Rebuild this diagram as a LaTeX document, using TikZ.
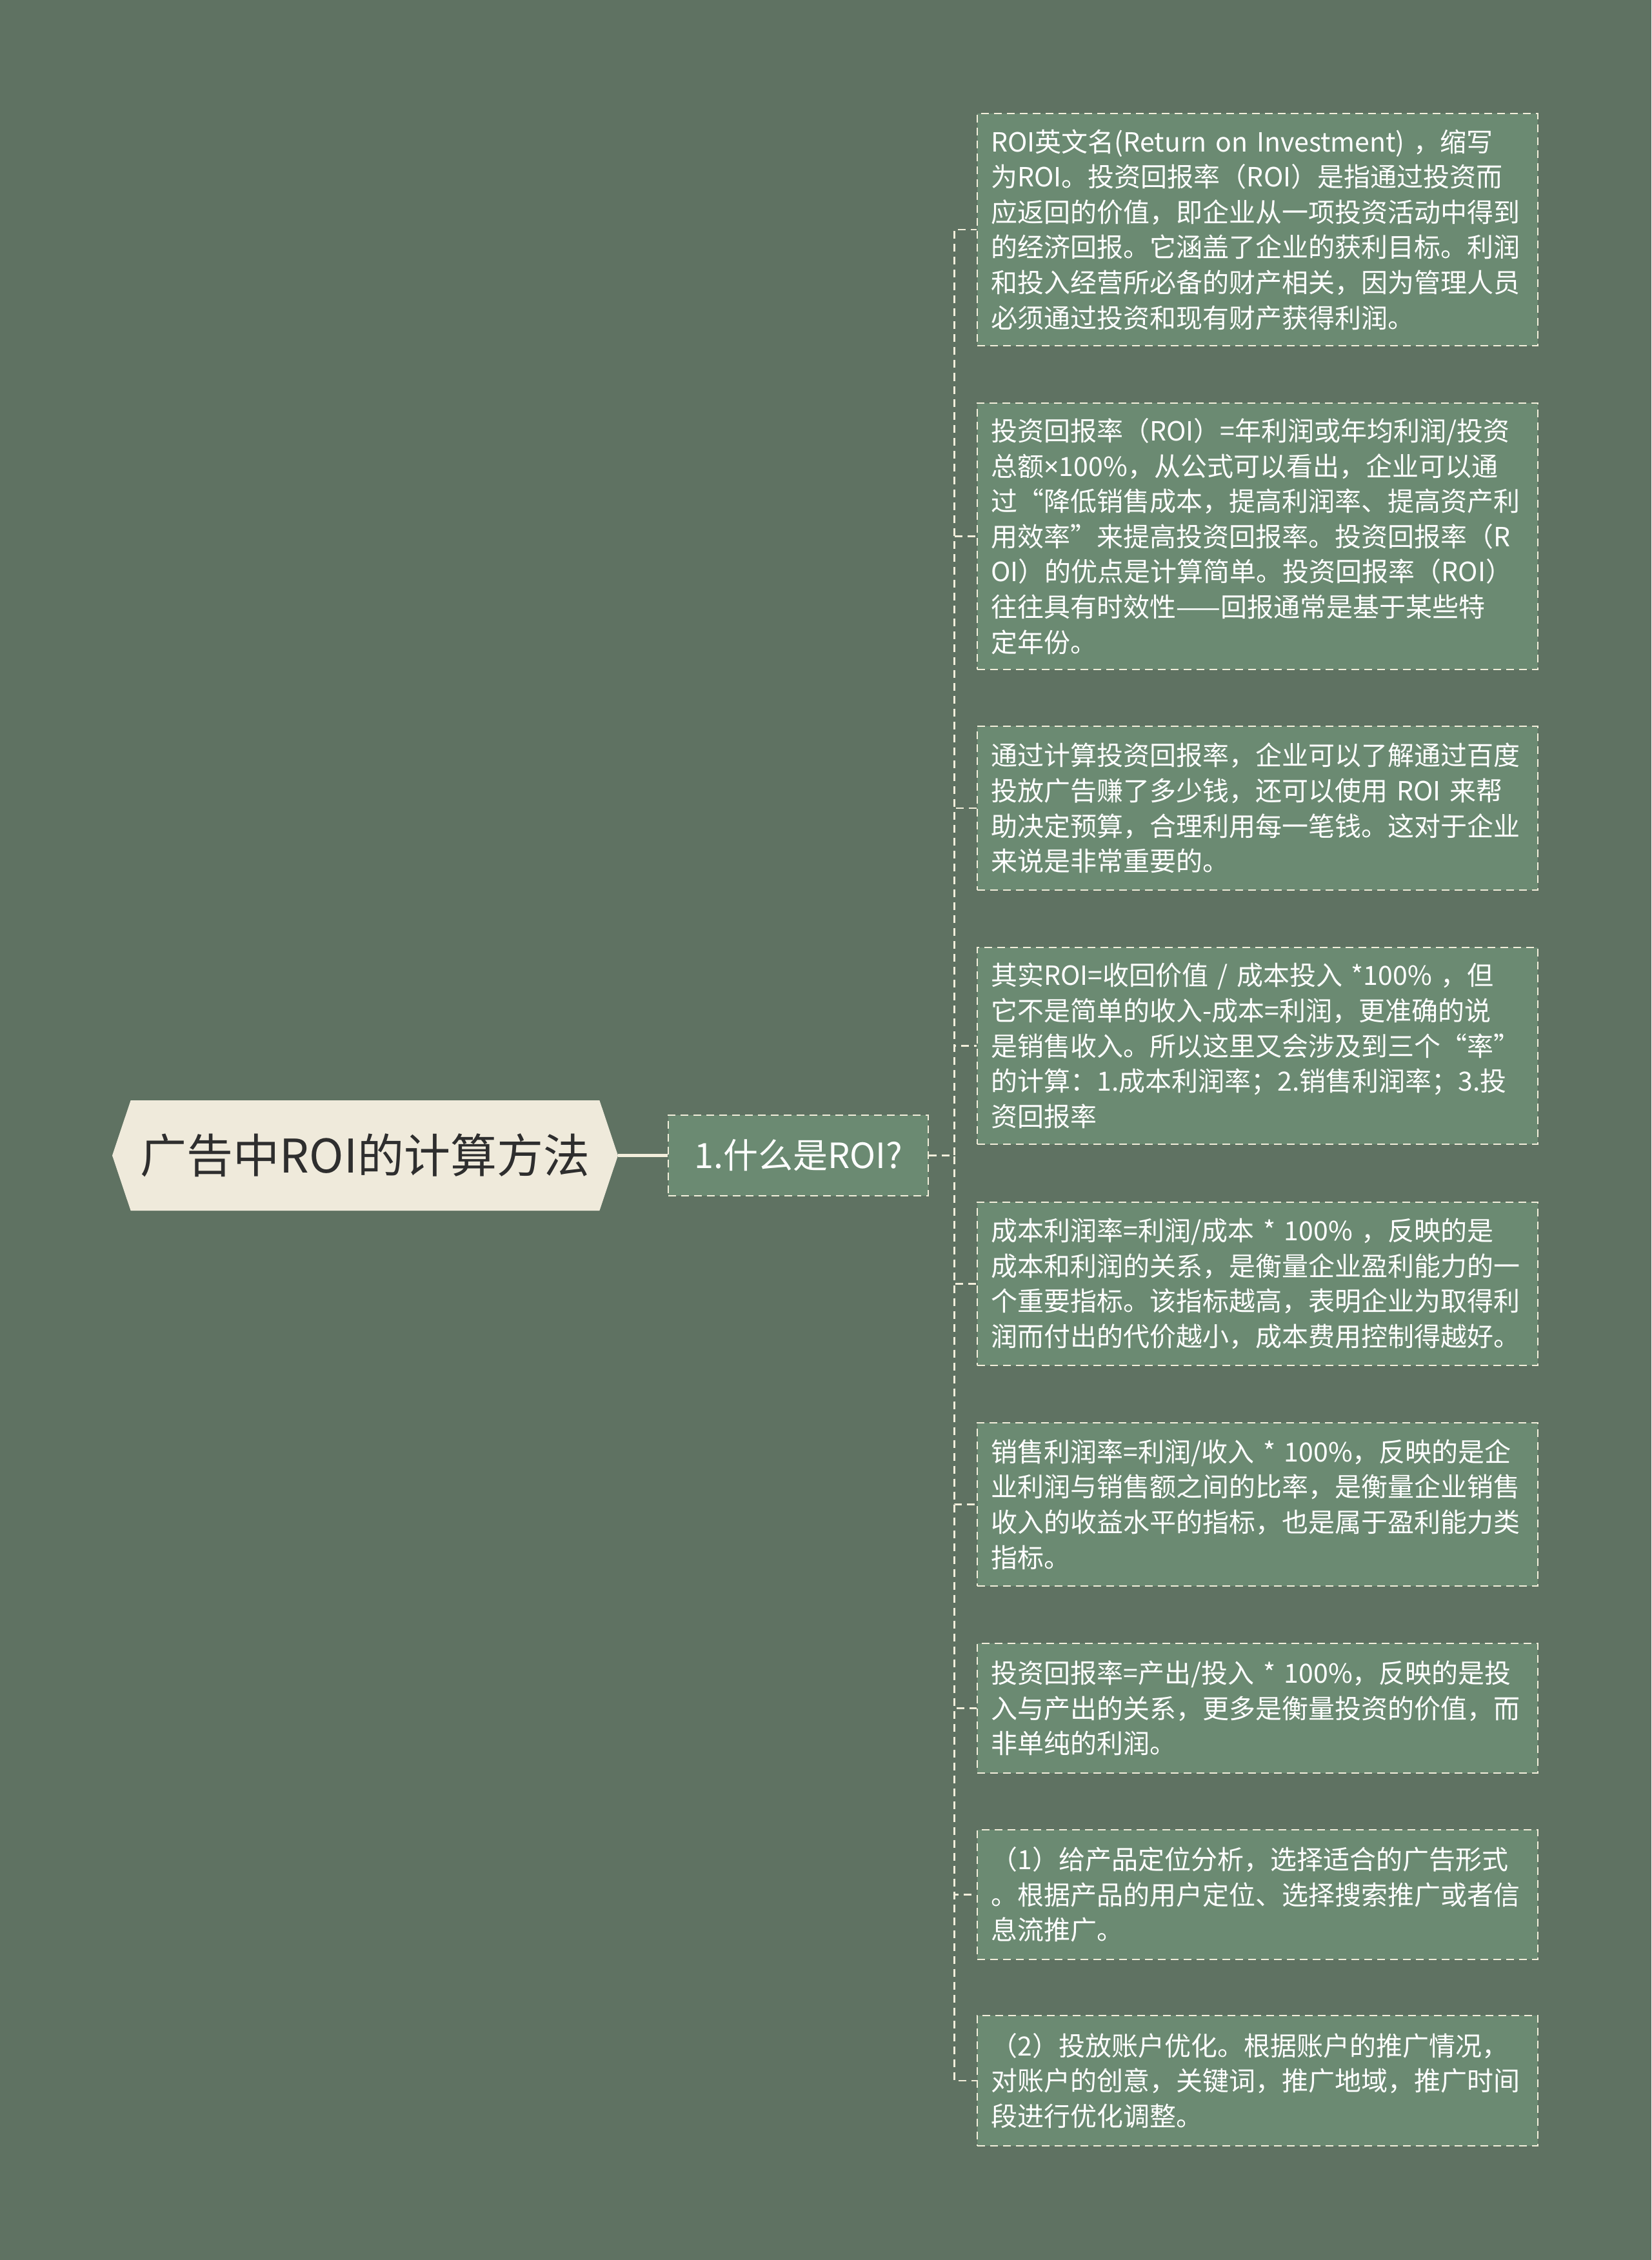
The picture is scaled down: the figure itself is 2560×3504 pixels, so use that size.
\documentclass[tikz,border=0pt]{standalone}
\usepackage{fontspec}
\newfontfamily\cjk{Noto Sans CJK SC}
\newfontfamily\latinf{Noto Sans}
\usetikzlibrary{shapes.symbols}

\definecolor{bgcol}{HTML}{5F7262}
\definecolor{leafcol}{HTML}{6B8A72}
\definecolor{linecol}{HTML}{F2EEDB}
\definecolor{rootcol}{HTML}{EFEADB}
\definecolor{titlecol}{HTML}{2E2E2E}

\tikzset{
  leaf/.style={draw=linecol, line width=1.3pt, dash pattern=on 6pt off 4pt,
    fill=leafcol, text=white, font=\cjk\fontsize{20.5pt}{27.3pt}\selectfont,
    align=left, text width=413pt, inner xsep=10.75pt},
  branch/.style={draw=linecol, line width=1.3pt, dash pattern=on 6pt off 4pt},
}

\begin{document}
\begin{tikzpicture}[x=0.5pt,y=-0.5pt]
    % background
    \fill[bgcol] (0,0) rectangle (2560,3504);
    \useasboundingbox (0,0) rectangle (2560,3504);

    % nodes
    \node (root) at (566,1791.5) [shape=signal, signal to=west and east, signal pointer angle=143, fill=rootcol, text=titlecol, minimum width=392pt, minimum height=85.5pt, inner sep=0pt, font=\cjk\fontsize{36pt}{40pt}\selectfont] {广告中ROI的计算方法};
    \node (whatis) at (1237.5,1791.5) [branch, fill=leafcol, text=white, minimum width=201.5pt, minimum height=62.5pt, font=\cjk\fontsize{27pt}{30pt}\selectfont] {1.什么是ROI?};

    \node (n1) at (1949.5,356) [leaf, minimum height=180pt] {ROI英文名(Return~on~Investment)~，缩写\\
      为ROI。投资回报率（ROI）是指通过投资而\\
      应返回的价值，即企业从一项投资活动中得到\\
      的经济回报。它涵盖了企业的获利目标。利润\\
      和投入经营所必备的财产相关，因为管理人员\\
      必须通过投资和现有财产获得利润。};
    \node (n2) at (1949.5,831.5) [leaf, minimum height=206.5pt] {投资回报率（ROI）=年利润或年均利润/投资\\
      总额{\latinf ×}100\%，从公式可以看出，企业可以通\\
      过“降低销售成本，提高利润率、提高资产利\\
      用效率”来提高投资回报率。投资回报率（R\\
      OI）的优点是计算简单。投资回报率（ROI）\\
      往往具有时效性——回报通常是基于某些特\\
      定年份。};
    \node (n3) at (1949.5,1253) [leaf, minimum height=127pt] {通过计算投资回报率，企业可以了解通过百度\\
      投放广告赚了多少钱，还可以使用~ROI~来帮\\
      助决定预算，合理利用每一笔钱。这对于企业\\
      来说是非常重要的。};
    \node (n4) at (1949.5,1621.5) [leaf, minimum height=152.5pt] {其实ROI=收回价值~/~成本投入~*100\%~，但\\
      它不是简单的收入-成本=利润，更准确的说\\
      是销售收入。所以这里又会涉及到三个“率”\\
      的计算：1.成本利润率；2.销售利润率；3.投\\
      资回报率};
    \node (n5) at (1949.5,1990.5) [leaf, minimum height=126.5pt] {成本利润率=利润/成本~*~100\%~，反映的是\\
      成本和利润的关系，是衡量企业盈利能力的一\\
      个重要指标。该指标越高，表明企业为取得利\\
      润而付出的代价越小，成本费用控制得越好。};
    \node (n6) at (1949.5,2332.5) [leaf, minimum height=126.5pt] {销售利润率=利润/收入~*~100\%，反映的是企\\
      业利润与销售额之间的比率，是衡量企业销售\\
      收入的收益水平的指标，也是属于盈利能力类\\
      指标。};
    \node (n7) at (1949.5,2648.5) [leaf, minimum height=100.5pt] {投资回报率=产出/投入~*~100\%，反映的是投\\
      入与产出的关系，更多是衡量投资的价值，而\\
      非单纯的利润。};
    \node (n8) at (1949.5,2937.5) [leaf, minimum height=100.5pt] {（1）给产品定位分析，选择适合的广告形式\\
      。根据产品的用户定位、选择搜索推广或者信\\
      息流推广。};
    \node (n9) at (1949.5,3226) [leaf, minimum height=101pt] {（2）投放账户优化。根据账户的推广情况，\\
      对账户的创意，关键词，推广地域，推广时间\\
      段进行优化调整。};

    % paths
    \draw[linecol, line width=2.5pt] (root.east) -- (whatis.west);
    \foreach \i in {1,...,9}
      \draw[branch] (whatis.east) -- ++(39,0) |- (n\i.west);

\end{tikzpicture}
\end{document}
